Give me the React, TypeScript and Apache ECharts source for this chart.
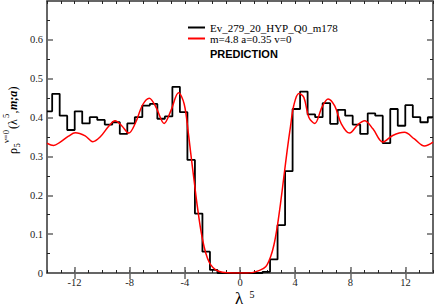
import React, { useEffect, useRef } from "react";
import * as echarts from "echarts";

// ---- data ----
const xMin = -14;
const xMax = 14;
const yMin = 0;
const yMax = 0.7;
const xMajorTicks = [-12, -8, -4, 0, 4, 8, 12];

const seriesNames = ["Ev_279_20_HYP_Q0_m178", "m=4.8 a=0.35 v=0"];

// histogram: bins of width binWidth, bin k covers [k*w, (k+1)*w], starting at k = firstBin
const binWidth = 0.545;
const firstBin = -26;
const histValues = [
  0.416, 0.461, 0.405, 0.368, 0.416, 0.385, 0.401, 0.394, 0.382, 0.388,
  0.358, 0.385, 0.401, 0.431, 0.435, 0.397, 0.403, 0.479, 0.414, 0.291,
  0.153, 0.055, 0.008, 0, 0, 0, 0, 0, 0, 0.003,
  0.035, 0.123, 0.262, 0.422, 0.467, 0.408, 0.401, 0.437, 0.384, 0.42,
  0.405, 0.382, 0.358, 0.411, 0.405, 0.334, 0.422, 0.379, 0.432, 0.401,
  0.388, 0.401,
];

// prediction curve
const curveX = [
  -14.0, -13.52, -13.04, -12.44, -11.95, -11.23, -10.68, -10.15, -9.54, -9.06,
  -8.58, -8.07, -7.61, -7.06, -6.58, -6.1, -5.5, -5.01, -4.46, -4.05,
  -3.74, -3.57, -3.33, -3.09, -2.84, -2.6, -2.36, -2.12, -1.76, -1.28,
  -0.5, 0, 0.5, 0.89, 1.37, 1.86, 2.22, 2.46, 2.7, 2.94,
  3.18, 3.42, 3.67, 3.9, 4.27, 4.63, 4.99, 5.42, 5.95, 6.39,
  6.87, 7.35, 7.95, 8.55, 9.04, 9.64, 10.36, 11.08, 11.93, 12.65,
  13.38, 14.0,
];
const curveY = [
  0.334, 0.328, 0.337, 0.352, 0.361, 0.353, 0.338, 0.35, 0.377, 0.392,
  0.379, 0.36, 0.384, 0.433, 0.45, 0.427, 0.385, 0.418, 0.464, 0.435,
  0.358, 0.307, 0.238, 0.17, 0.11, 0.067, 0.038, 0.021, 0.008, 0.002,
  0, 0, 0, 0.001, 0.006, 0.016, 0.042, 0.072, 0.119, 0.179,
  0.247, 0.315, 0.379, 0.431, 0.462, 0.452, 0.401, 0.385, 0.427, 0.448,
  0.43, 0.384, 0.36, 0.382, 0.392, 0.371, 0.337, 0.354, 0.362, 0.345,
  0.327, 0.337,
];

const SERIF = '"Liberation Serif", "Times New Roman", serif';
const SANS = '"Liberation Sans", Arial, sans-serif';

export default function App() {
  const ref = useRef<HTMLDivElement>(null);

  useEffect(() => {
    document.body.style.margin = "0";
    if (!ref.current) return;
    const chart = echarts.init(ref.current, undefined, { renderer: "svg" });

    const histData: number[][] = histValues.map((v, i) => [
      Math.max(xMin, (firstBin + i) * binWidth),
      v,
    ]);
    histData.push([xMax, histValues[histValues.length - 1]]);
    const curveData = curveX.map((x, i) => [x, curveY[i]]);

    const frame = { show: true, onZero: false, lineStyle: { color: "#333", width: 1.5 } };
    const minorTick = { show: true, inside: true, length: 3, lineStyle: { color: "#222", width: 1 } };
    const majorTick = { show: true, inside: true, length: 6, lineStyle: { color: "#666", width: 1.5 } };

    const xBase = {
      type: "value" as const,
      min: xMin,
      max: xMax,
      splitLine: { show: false },
    };

    chart.setOption({
      animation: false,
      backgroundColor: "#fff",
      grid: { left: 47, right: 1.5, top: 1, bottom: 34, containLabel: false },
      legend: {
        orient: "vertical",
        left: 188,
        top: 21.5,
        padding: 0,
        itemWidth: 17,
        itemHeight: 2,
        itemGap: -1,
        icon: "rect",
        data: seriesNames,
        textStyle: { fontFamily: SERIF, fontSize: 11, color: "#000", lineHeight: 12 },
      },
      xAxis: [
        {
          ...xBase,
          position: "bottom",
          interval: 1,
          axisLine: frame,
          axisTick: minorTick,
          axisLabel: {
            show: true,
            margin: 4,
            fontFamily: SERIF,
            fontSize: 10.5,
            color: "#222",
            formatter: (v: number) => (xMajorTicks.indexOf(v) >= 0 ? String(v) : ""),
          },
        },
        {
          ...xBase,
          position: "bottom",
          axisLine: { show: false },
          axisTick: { ...majorTick, customValues: xMajorTicks },
          axisLabel: { show: false },
        },
        {
          ...xBase,
          position: "top",
          interval: 1,
          axisLine: frame,
          axisTick: minorTick,
          axisLabel: { show: false },
        },
        {
          ...xBase,
          position: "top",
          axisLine: { show: false },
          axisTick: { ...majorTick, customValues: xMajorTicks },
          axisLabel: { show: false },
        },
      ],
      yAxis: [
        {
          type: "value",
          position: "left",
          min: yMin,
          max: yMax,
          interval: 0.1,
          axisLine: frame,
          axisTick: majorTick,
          minorTick: { ...minorTick, splitNumber: 2 },
          splitLine: { show: false },
          minorSplitLine: { show: false },
          axisLabel: {
            margin: 4,
            fontFamily: SERIF,
            fontSize: 10.5,
            color: "#222",
            formatter: (v: number) => (v > 0.65 ? "" : String(Math.round(v * 10) / 10)),
          },
        },
        {
          type: "value",
          position: "right",
          min: yMin,
          max: yMax,
          interval: 0.1,
          axisLine: frame,
          axisTick: majorTick,
          minorTick: { ...minorTick, splitNumber: 2 },
          splitLine: { show: false },
          minorSplitLine: { show: false },
          axisLabel: { show: false },
        },
      ],
      series: [
        {
          name: seriesNames[0],
          type: "line",
          step: "end",
          data: histData,
          symbol: "none",
          clip: true,
          lineStyle: { color: "#000", width: 1.8 },
          itemStyle: { color: "#000" },
          z: 2,
        },
        {
          name: seriesNames[1],
          type: "line",
          smooth: 0.35,
          data: curveData,
          symbol: "none",
          clip: true,
          lineStyle: { color: "#ff0000", width: 1.5 },
          itemStyle: { color: "#ff0000" },
          z: 3,
        },
      ],
      graphic: [
        {
          type: "text",
          x: 210,
          y: 53.5,
          style: {
            text: "PREDICTION",
            font: `bold 11px ${SANS}`,
            fill: "#000",
            textAlign: "left",
            textVerticalAlign: "middle",
          },
        },
        {
          type: "group",
          x: 13,
          y: 154,
          rotation: Math.PI / 2,
          children: [
            { type: "text", x: 0, y: 0, style: { text: "ρ", font: `12px ${SERIF}`, fill: "#000", textAlign: "left", textVerticalAlign: "middle" } },
            { type: "text", x: 6.5, y: 4, style: { text: "5", font: `8.5px ${SERIF}`, fill: "#000", textAlign: "left", textVerticalAlign: "middle" } },
            { type: "text", x: 11, y: -7.5, style: { text: "ν=0", font: `8.5px ${SERIF}`, fill: "#000", textAlign: "left", textVerticalAlign: "middle" } },
            { type: "text", x: 25, y: 0, style: { text: "(λ", font: `12px ${SERIF}`, fill: "#000", textAlign: "left", textVerticalAlign: "middle" } },
            { type: "text", x: 36, y: -7.5, style: { text: "5", font: `8.5px ${SERIF}`, fill: "#000", textAlign: "left", textVerticalAlign: "middle" } },
            { type: "text", x: 40.5, y: 0, style: { text: ",", font: `12px ${SERIF}`, fill: "#000", textAlign: "left", textVerticalAlign: "middle" } },
            { type: "text", x: 44, y: 0, style: { text: "m;a", font: `italic bold 12px ${SERIF}`, fill: "#000", textAlign: "left", textVerticalAlign: "middle" } },
            { type: "text", x: 63.5, y: 0, style: { text: ")", font: `12px ${SERIF}`, fill: "#000", textAlign: "left", textVerticalAlign: "middle" } },
          ],
        },
        {
          type: "text",
          x: 239,
          y: 298.5,
          style: { text: "λ", font: `17px ${SERIF}`, fill: "#000", textAlign: "center", textVerticalAlign: "middle" },
        },
        {
          type: "text",
          x: 249.5,
          y: 294,
          style: { text: "5", font: `10px ${SERIF}`, fill: "#000", textAlign: "left", textVerticalAlign: "middle" },
        },
      ],
    });

    return () => chart.dispose();
  }, []);

  return (
    <div
      ref={ref}
      style={{ position: "absolute", left: 0, top: 0, width: 436, height: 307 }}
    />
  );
}
